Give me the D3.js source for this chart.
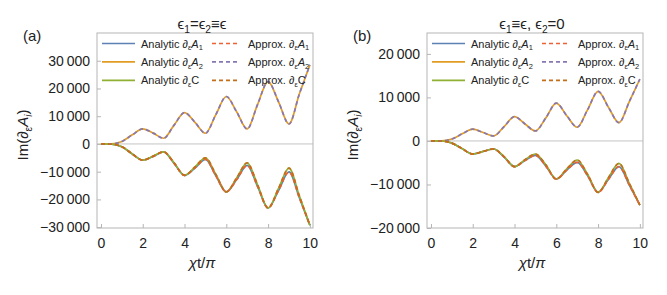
<!DOCTYPE html>
<html>
<head>
<meta charset="utf-8">
<script src="https://cdn.jsdelivr.net/npm/d3@7"></script>
<style>
  body { margin: 0; background: #fff; }
  svg { display: block; font-family: "Liberation Sans", Arial, sans-serif; }
  .tick text { fill: #222; font-size: 14px; }
</style>
</head>
<body>
<div id="chart"></div>
<script>
(function () {
  'use strict';

  // x grid, in units of chi t / pi
  var X_VALUES = [0, 0.5, 1, 1.5, 2, 2.5, 3, 3.5, 4, 4.5, 5, 5.5, 6, 6.5, 7, 7.5, 8, 8.5, 9, 9.5, 10];

  // panel (a): eps1 = eps2 = eps
  var A_ANALYTIC_A1 = [0, -30, -1000, -3600, -5850, -4500, -2850, -7000, -11300, -8700, -5600, -11500, -17300, -12800, -7700, -15400, -23100, -16800, -10100, -19500, -29300];
  var A_ANALYTIC_A2 = [0, 30, 900, 3300, 5400, 3900, 2050, 6800, 11300, 7800, 3850, 10600, 17100, 11500, 5400, 14300, 22500, 15200, 7200, 18100, 28500];
  var A_ANALYTIC_C = [0, -30, -1000, -3600, -5850, -4400, -2850, -6800, -11300, -8300, -5000, -11000, -17300, -12200, -6800, -14800, -23100, -16000, -8700, -18800, -29300];
  var A_APPROX_A1 = A_ANALYTIC_A1.slice();
  var A_APPROX_A2 = A_ANALYTIC_A2.slice();
  var A_APPROX_C = A_ANALYTIC_C.slice();

  // panel (b): eps1 = eps, eps2 = 0
  var B_ANALYTIC_A1 = [0, -15, -500, -1800, -3000, -2400, -1850, -3700, -5900, -4500, -3300, -5800, -8750, -6700, -4900, -8000, -11800, -8800, -5900, -10200, -14750];
  var B_ANALYTIC_A2 = [0, 15, 450, 1650, 2700, 1950, 1150, 3300, 5600, 3900, 2300, 5300, 8700, 5800, 3150, 7200, 11400, 7700, 4200, 9100, 14200];
  var B_ANALYTIC_C = [0, -15, -500, -1800, -3000, -2400, -1850, -3600, -5900, -4300, -3000, -5500, -8750, -6400, -4380, -7700, -11800, -8400, -5150, -9800, -14750];
  var B_APPROX_A1 = B_ANALYTIC_A1.slice();
  var B_APPROX_A2 = B_ANALYTIC_A2.slice();
  var B_APPROX_C = B_ANALYTIC_C.slice();

  var X_TICKS = [0, 2, 4, 6, 8, 10];
  var A_Y_TICKS = [-30000, -20000, -10000, 0, 10000, 20000, 30000];
  var B_Y_TICKS = [-20000, -10000, 0, 10000, 20000];

  // legend entries, in Mathematica drawing order
  var SERIES_STYLE = [
    { key: 'anA1', kind: 'Analytic', sub: 'A', idx: '1', color: '#5e81b5', dash: null },
    { key: 'anA2', kind: 'Analytic', sub: 'A', idx: '2', color: '#e19c24', dash: null },
    { key: 'anC', kind: 'Analytic', sub: 'C', idx: '', color: '#8fb032', dash: null },
    { key: 'apA1', kind: 'Approx.', sub: 'A', idx: '1', color: '#eb6235', dash: '4,3' },
    { key: 'apA2', kind: 'Approx.', sub: 'A', idx: '2', color: '#8778b3', dash: '4,3' },
    { key: 'apC', kind: 'Approx.', sub: 'C', idx: '', color: '#c56e1a', dash: '4,3' }
  ];

  var W = 667, H = 295;
  var FRAME = '#b5b5b5';
  var fmt = d3.formatLocale({
    decimal: '.', thousands: '\u2009', grouping: [3], currency: ['', ''], minus: '\u2212'
  }).format(',');

  var svg = d3.select('#chart').append('svg').attr('width', W).attr('height', H);

  // rich text builder: parts are {t, sub, it}
  function rich(t, parts, size) {
    var shift = 0;
    parts.forEach(function (p) {
      var want = p.sub ? size * 0.25 : 0;
      var ts = t.append('tspan').text(p.t);
      if (want !== shift) { ts.attr('dy', want - shift); shift = want; }
      if (p.sub) ts.attr('font-size', size * 0.68);
      if (p.it) ts.attr('font-style', 'italic');
    });
  }

  function derivParts(sub, idx) {
    var parts = [{ t: '\u2202' }, { t: '\u03b5', sub: true }, { t: sub, it: sub === 'A' }];
    if (idx) parts.push({ t: idx, sub: true, it: idx === 'i' });
    return parts;
  }

  function drawPanel(cfg) {
    var g = svg.append('g');
    var x = d3.scaleLinear().domain([-0.19, 10.15]).range([cfg.left, cfg.right]);
    var y = d3.scaleLinear().domain(cfg.yDomain).range([cfg.bottom, cfg.top]);

    var clipId = 'clip-' + cfg.id;
    svg.append('clipPath').attr('id', clipId).append('rect')
      .attr('x', cfg.left).attr('y', cfg.top)
      .attr('width', cfg.right - cfg.left).attr('height', cfg.bottom - cfg.top);

    // zero axis
    g.append('line')
      .attr('x1', cfg.left).attr('x2', cfg.right)
      .attr('y1', y(0)).attr('y2', y(0))
      .attr('stroke', '#c4c4c4').attr('stroke-width', 1);

    // frame axes with inward ticks
    var xAxis = g.append('g').attr('transform', 'translate(0,' + cfg.bottom + ')')
      .call(d3.axisBottom(x).tickValues(X_TICKS).tickSize(-4).tickPadding(10).tickFormat(d3.format('d')));
    var yAxis = g.append('g').attr('transform', 'translate(' + cfg.left + ',0)')
      .call(d3.axisLeft(y).tickValues(cfg.yTicks).tickSize(-4).tickPadding(7).tickFormat(fmt));
    [xAxis, yAxis].forEach(function (a) {
      a.select('.domain').remove();
      a.selectAll('.tick line').attr('stroke', FRAME);
      a.selectAll('.tick text').attr('font-family', '"Liberation Sans", Arial, sans-serif');
    });

    g.append('rect')
      .attr('x', cfg.left).attr('y', cfg.top)
      .attr('width', cfg.right - cfg.left).attr('height', cfg.bottom - cfg.top)
      .attr('fill', 'none').attr('stroke', FRAME).attr('stroke-width', 1);

    var line = d3.line()
      .x(function (d) { return x(d[0]); })
      .y(function (d) { return y(d[1]); })
      .curve(d3.curveMonotoneX);

    var curves = g.append('g').attr('clip-path', 'url(#' + clipId + ')');
    SERIES_STYLE.forEach(function (s) {
      var vals = cfg.series[s.key];
      curves.append('path')
        .datum(X_VALUES.map(function (xv, i) { return [xv, vals[i]]; }))
        .attr('d', line)
        .attr('fill', 'none')
        .attr('stroke', s.color)
        .attr('stroke-width', 1.7)
        .attr('stroke-dasharray', s.dash);
    });

    // legend
    var leg = g.append('g');
    SERIES_STYLE.forEach(function (s, i) {
      var col = i < 3 ? 0 : 1;
      var row = i % 3;
      var lx = cfg.left + 5 + col * 110;
      var ly = cfg.top + 10.5 + row * 18.4;
      leg.append('line')
        .attr('x1', lx).attr('x2', lx + (col ? 28 : 33))
        .attr('y1', ly).attr('y2', ly)
        .attr('stroke', s.color).attr('stroke-width', 1.7)
        .attr('stroke-dasharray', s.dash);
      var t = leg.append('text')
        .attr('x', lx + (col ? 36 : 39)).attr('y', ly + 4)
        .attr('font-size', 11).attr('fill', '#222');
      rich(t, [{ t: s.kind + ' ' }].concat(derivParts(s.sub, s.idx)), 11);
    });

    // title
    var tt = g.append('text')
      .attr('x', (cfg.left + cfg.right) / 2 - 3).attr('y', 29)
      .attr('text-anchor', 'middle').attr('font-size', 15).attr('fill', '#222');
    rich(tt, cfg.title, 15);

    // panel tag
    g.append('text')
      .attr('x', cfg.left - 74).attr('y', 41)
      .attr('font-size', 15).attr('fill', '#222')
      .text(cfg.tag);

    // x label
    var xl = g.append('text')
      .attr('x', (cfg.left + cfg.right) / 2 - 3).attr('y', 268)
      .attr('text-anchor', 'middle').attr('font-size', 15).attr('fill', '#222');
    rich(xl, [{ t: '\u03c7', it: true }, { t: 't/' }, { t: '\u03c0', it: true }], 15);

    // y label
    var yl = g.append('text')
      .attr('transform', 'translate(' + (cfg.left - 69) + ',' + 135 + ') rotate(-90)')
      .attr('text-anchor', 'middle').attr('font-size', 15).attr('fill', '#222');
    rich(yl, [{ t: 'Im(' }].concat(derivParts('A', 'i'), [{ t: ')' }]), 15);
  }

  drawPanel({
    id: 'a', tag: '(a)', left: 97, right: 313, top: 33, bottom: 228,
    yDomain: [-30300, 40000], yTicks: A_Y_TICKS,
    series: { anA1: A_ANALYTIC_A1, anA2: A_ANALYTIC_A2, anC: A_ANALYTIC_C,
              apA1: A_APPROX_A1, apA2: A_APPROX_A2, apC: A_APPROX_C },
    title: [{ t: '\u03f5' }, { t: '1', sub: true }, { t: '=\u03f5' }, { t: '2', sub: true }, { t: '\u2261\u03f5' }]
  });

  drawPanel({
    id: 'b', tag: '(b)', left: 427, right: 643, top: 33, bottom: 228,
    yDomain: [-20000, 24800], yTicks: B_Y_TICKS,
    series: { anA1: B_ANALYTIC_A1, anA2: B_ANALYTIC_A2, anC: B_ANALYTIC_C,
              apA1: B_APPROX_A1, apA2: B_APPROX_A2, apC: B_APPROX_C },
    title: [{ t: '\u03f5' }, { t: '1', sub: true }, { t: '\u2261\u03f5, \u03f5' }, { t: '2', sub: true }, { t: '=0' }]
  });
})();
</script>
</body>
</html>
